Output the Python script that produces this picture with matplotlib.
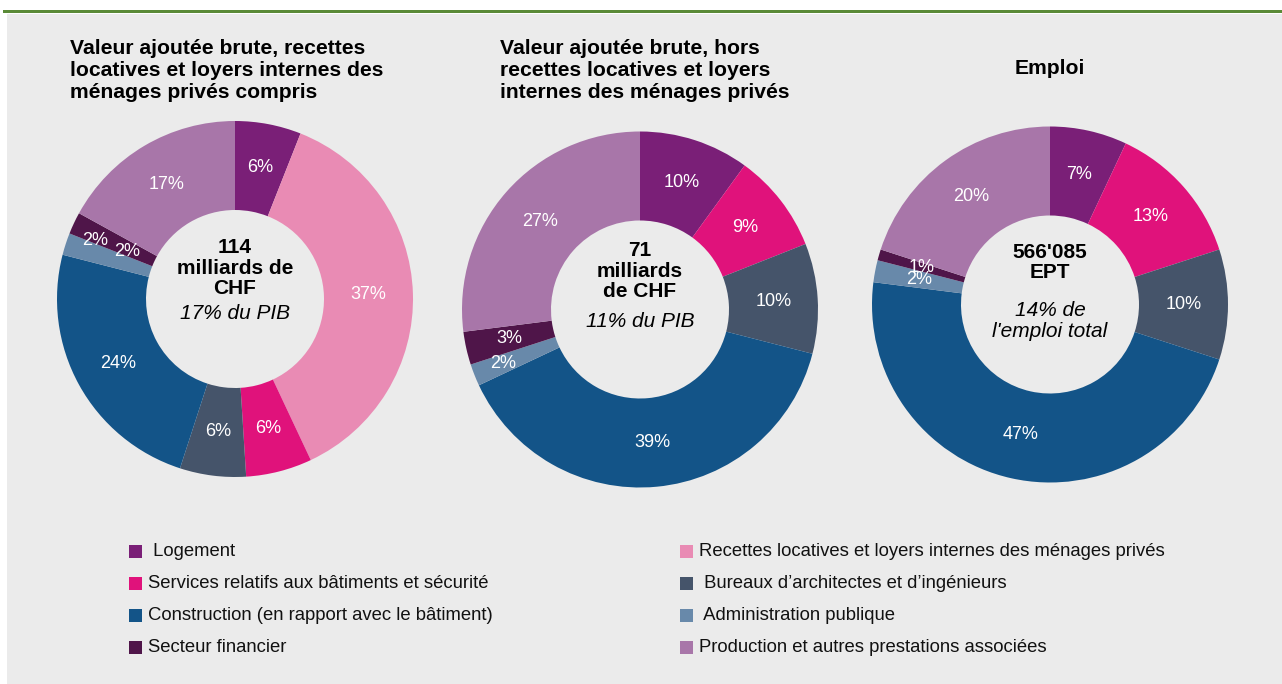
import numpy as np
import matplotlib
matplotlib.use('Agg')
import matplotlib.pyplot as plt
from matplotlib.patches import Rectangle

plt.rcParams['font.family'] = ['Liberation Sans', 'DejaVu Sans']

W, H = 1282, 684

# categories in drawing order (clockwise from 12 o'clock)
categories = ['Logement',
              'Recettes locatives et loyers internes des ménages privés',
              'Services relatifs aux bâtiments et sécurité',
              'Bureaux d’architectes et d’ingénieurs',
              'Construction (en rapport avec le bâtiment)',
              'Administration publique',
              'Secteur financier',
              'Production et autres prestations associées']
colors = ['#7a1f77', '#e98bb4', '#e0127b', '#45546a',
          '#135488', '#6889aa', '#4f1549', '#a876a9']

# shares in percent, same order as categories (0 = not part of the ring)
vab_incl = [6, 37, 6, 6, 24, 2, 2, 17]
vab_excl = [10, 0, 9, 10, 39, 2, 3, 27]
emploi = [7, 0, 13, 10, 47, 2, 1, 20]

titles = ['Valeur ajoutée brute, recettes\nlocatives et loyers internes des\nménages privés compris',
          'Valeur ajoutée brute, hors\nrecettes locatives et loyers\ninternes des ménages privés',
          'Emploi']
center_main = ['114\nmilliards de\nCHF', '71\nmilliards\nde CHF', "566'085\nEPT"]
center_sub = ['17% du PIB', '11% du PIB', "14% de\nl'emploi total"]

# legend layout: left column then right column
legend_left = [0, 2, 4, 6]
legend_right = [1, 3, 5, 7]
legend_text = {0: ' Logement', 3: ' Bureaux d’architectes et d’ingénieurs',
               5: ' Administration publique'}

fig = plt.figure(figsize=(W / 100, H / 100), dpi=100, facecolor='white')


def fx(px):
    return px / W


def fy(py):
    return 1 - py / H


# grey panel and green rule on top, kept behind the axes
fig.patches.append(Rectangle((fx(7), 0), 1, fy(14), transform=fig.transFigure,
                             facecolor='#ebebeb', edgecolor='none', zorder=-2))
fig.patches.append(Rectangle((fx(3), fy(13)), 1, 3 / H, transform=fig.transFigure,
                             facecolor='#5a8a37', edgecolor='none', zorder=-2))

R = 178
pies = [
    dict(vals=vab_incl, cx=235, cy=299, main_y=0.174, sub_y=-0.084,
         title_x=70, title_ha='left',
         label_fix={5: (0.85, 4.8), 6: (0.66, -1.5)}),
    dict(vals=vab_excl, cx=640, cy=309.5, main_y=0.216, sub_y=-0.07,
         title_x=500, title_ha='left', label_fix={5: (0.83, 0)}),
    dict(vals=emploi, cx=1050, cy=304.5, main_y=0.236, sub_y=-0.093,
         title_x=1050, title_ha='center', label_fix={}),
]

for k, p in enumerate(pies):
    ax = fig.add_axes([fx(p['cx'] - R), fy(p['cy'] + R), 2 * R / W, 2 * R / H])

    idx = [i for i, v in enumerate(p['vals']) if v > 0]
    vals = [p['vals'][i] for i in idx]
    cols = [colors[i] for i in idx]
    wedges, _ = ax.pie(vals, colors=cols, radius=1, startangle=90, counterclock=False,
                       wedgeprops=dict(width=0.5, edgecolor='none', linewidth=0))
    # pie() widens the limits, pin them so radius 1 fills the axes box
    ax.set_xlim(-1, 1)
    ax.set_ylim(-1, 1)
    ax.axis('off')

    for w, i, v in zip(wedges, idx, vals):
        rad, shift = p['label_fix'].get(i, (0.75, 0))
        ang = np.deg2rad((w.theta1 + w.theta2) / 2 - shift)
        ax.text(rad * np.cos(ang), rad * np.sin(ang), f'{v}%', color='white',
                fontsize=13, ha='center', va='center')

    ax.text(0, p['main_y'], center_main[k], ha='center', va='center', fontsize=15,
            fontweight='bold', linespacing=1.08)
    ax.text(0, p['sub_y'], center_sub[k], ha='center', va='center', fontsize=15,
            style='italic', linespacing=1.08)

    if p['title_ha'] == 'left':
        fig.text(fx(p['title_x']), fy(39), titles[k], ha='left', va='top',
                 fontsize=15.2, fontweight='bold', linespacing=1.2)
    else:
        fig.text(fx(p['title_x']), fy(69), titles[k], ha='center', va='center',
                 fontsize=15.2, fontweight='bold')

# legend drawn as two columns of squares and labels
rows_y = [551, 583, 615, 647]
for col_x, items in [(129, legend_left), (680, legend_right)]:
    for y, i in zip(rows_y, items):
        fig.patches.append(Rectangle((fx(col_x), fy(y + 6.5)), 13 / W, 13 / H,
                                     transform=fig.transFigure, facecolor=colors[i],
                                     edgecolor='none'))
        fig.text(fx(col_x + 19), fy(y), legend_text.get(i, categories[i]),
                 ha='left', va='center', fontsize=13.3, color='#111111')

fig.savefig('out.png', dpi=100, facecolor=fig.get_facecolor())
